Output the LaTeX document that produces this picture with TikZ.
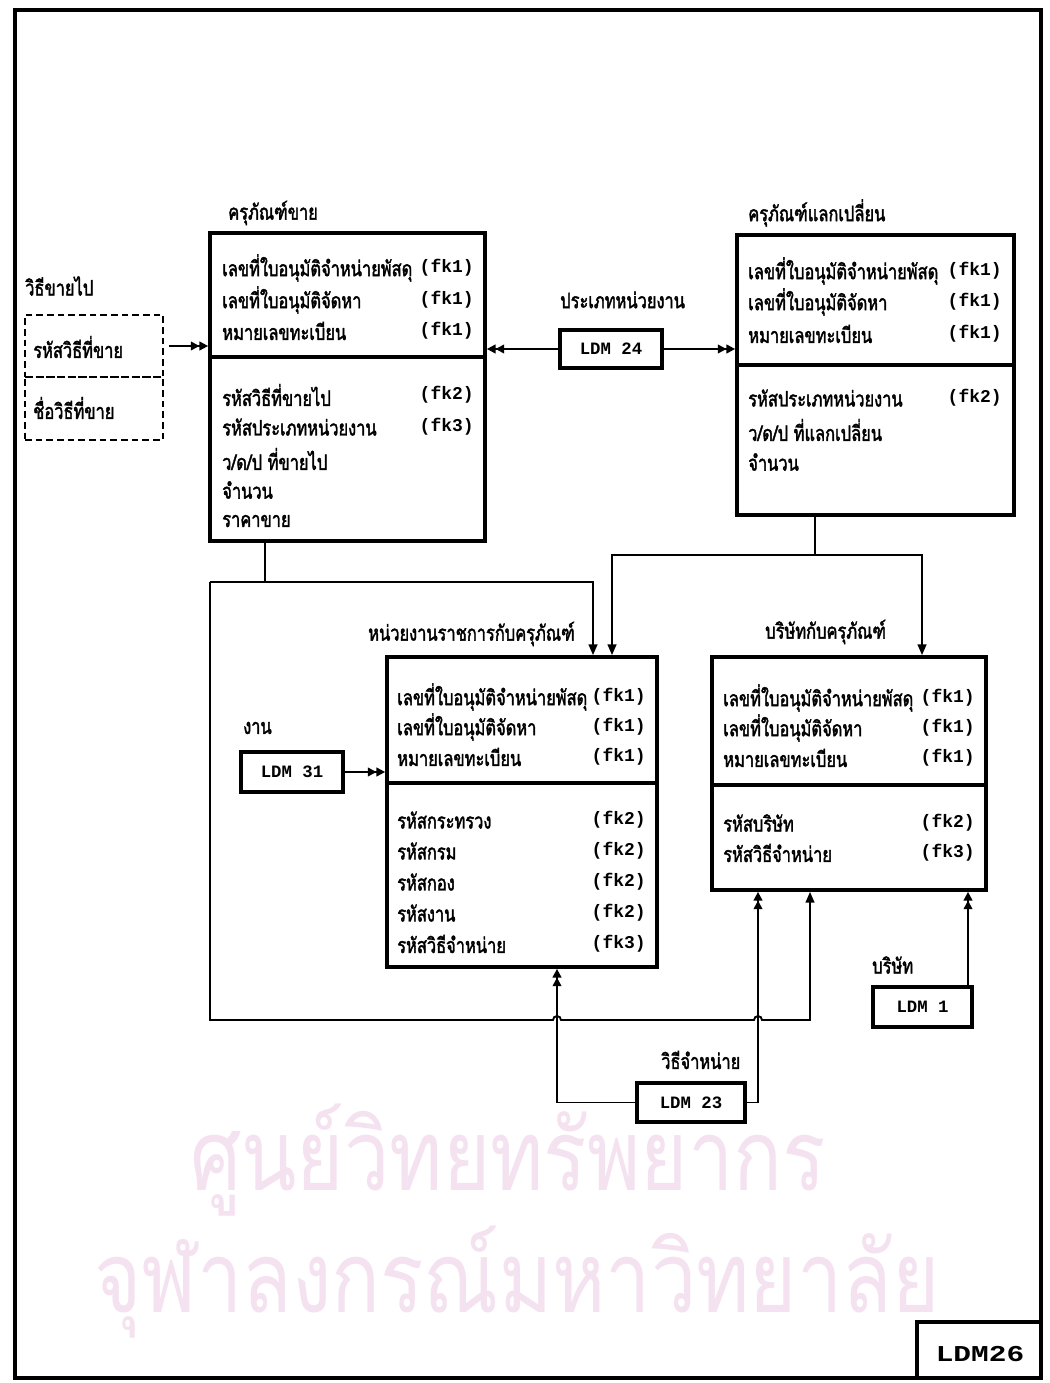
\documentclass[tikz,border=0pt]{standalone}
\usepackage{fontspec}
\usetikzlibrary{arrows.meta,fit}
\newfontfamily\thaif[Script=Thai, FakeStretch=0.77, FakeBold=1.8]{Loma}
\newfontfamily\wmf[Script=Thai, FakeStretch=0.82]{Loma}
\newfontfamily\ldmf{Liberation Mono}
\newfontfamily\widef[FakeStretch=1.3]{Liberation Mono}
\definecolor{wm}{RGB}{244,226,241}
\newcommand\myattr{\thaif\fontsize{16pt}{18pt}\selectfont}
\newcommand\myfk{\ldmf\bfseries\fontsize{13.5pt}{15pt}\selectfont}
\tikzset{
  ent/.style={draw, line width=2.8pt, inner sep=0pt},
  divline/.style={line width=2.8pt},
  ldm/.style={draw, line width=2.8pt, inner sep=0pt},
  ldmtext/.style={font=\ldmf\bfseries\fontsize{13pt}{15pt}\selectfont},
  conn/.style={line width=1.4pt},
  sgl/.style={conn, -{Triangle[length=8pt,width=6.5pt]}},
  dbl/.style={conn, -{Triangle[length=6.5pt,width=6.5pt]Triangle[length=6.5pt,width=6.5pt]}},
  attr/.style={anchor=west, inner sep=0pt, font=\myattr},
  fk/.style={anchor=east, inner sep=0pt, font=\myfk},
  ttl/.style={anchor=west, inner sep=0pt, font=\myattr},
  vbox/.style={draw, dashed, line width=1.2pt, dash pattern=on 5pt off 3pt, inner sep=0pt},
  wmark/.style={text=wm, inner sep=0pt, font=\wmf\fontsize{74pt}{76pt}\selectfont}
}
\begin{document}
\begin{tikzpicture}[x=0.75pt,y=-0.75pt]
\useasboundingbox (0,0) rectangle (1049,1383);
\fill[white] (0,0) rectangle (1049,1383);
% watermark
\node[wmark] (wm1) at (508,1160) {ศูนย์วิทยทรัพยากร};
\node[wmark] (wm2) at (517,1282) {จุฬาลงกรณ์มหาวิทยาลัย};
% frame
\draw[line width=3.6pt] (15,10) rectangle (1041,1378);
\draw[line width=3.6pt] (917,1378) -- (917,1322) -- (1041,1322);
\node[inner sep=0pt, font=\widef\bfseries\fontsize{17pt}{19pt}\selectfont] (ldm26) at (980,1354) {LDM26};

% ---- entity A: ครุภัณฑ์ขาย
\node[ent, fit={(210,233) (485,541)}] (A) {};
\draw[divline] (210,357) -- (485,357);
\node[ttl] (At) at (228,213) {ครุภัณฑ์ขาย};
\node[attr] (A1) at (222,268) {เลขที่ใบอนุมัติจำหน่ายพัสดุ};
\node[fk] (A1f) at (474,268) {(fk1)};
\node[attr] (A2) at (222,300) {เลขที่ใบอนุมัติจัดหา};
\node[fk] (A2f) at (474,300) {(fk1)};
\node[attr] (A3) at (222,331) {หมายเลขทะเบียน};
\node[fk] (A3f) at (474,331) {(fk1)};
\node[attr] (A4) at (222,395) {รหัสวิธีที่ขายไป};
\node[fk] (A4f) at (474,395) {(fk2)};
\node[attr] (A5) at (222,427) {รหัสประเภทหน่วยงาน};
\node[fk] (A5f) at (474,427) {(fk3)};
\node[attr] (A6) at (222,459) {ว/ด/ป ที่ขายไป};
\node[attr] (A7) at (222,490) {จำนวน};
\node[attr] (A8) at (222,521) {ราคาขาย};

% ---- dashed box วิธีขายไป
\node[ttl] (Vt) at (25,286) {วิธีขายไป};
\node[vbox, fit={(25,315) (163,377)}] (V1) {};
\node[vbox, fit={(25,377) (163,440)}] (V2) {};
\node[attr] (V1a) at (33,347) {รหัสวิธีที่ขาย};
\node[attr] (V2a) at (33,408) {ชื่อวิธีที่ขาย};

% ---- entity C: ครุภัณฑ์แลกเปลี่ยน
\node[ent, fit={(737,235) (1014,515)}] (C) {};
\draw[divline] (737,365) -- (1014,365);
\node[ttl] (Ct) at (748,213) {ครุภัณฑ์แลกเปลี่ยน};
\node[attr] (C1) at (748,271) {เลขที่ใบอนุมัติจำหน่ายพัสดุ};
\node[fk] (C1f) at (1002,271) {(fk1)};
\node[attr] (C2) at (748,302) {เลขที่ใบอนุมัติจัดหา};
\node[fk] (C2f) at (1002,302) {(fk1)};
\node[attr] (C3) at (748,334) {หมายเลขทะเบียน};
\node[fk] (C3f) at (1002,334) {(fk1)};
\node[attr] (C4) at (748,398) {รหัสประเภทหน่วยงาน};
\node[fk] (C4f) at (1002,398) {(fk2)};
\node[attr] (C5) at (748,430) {ว/ด/ป ที่แลกเปลี่ยน};
\node[attr] (C6) at (748,462) {จำนวน};

% ---- LDM 24
\node[ttl] (L24t) at (560,300) {ประเภทหน่วยงาน};
\node[ldm, fit={(560,330) (662,368)}] (L24) {};
\node[ldmtext] (L24x) at (L24) {LDM 24};

% ---- entity B: หน่วยงานราชการกับครุภัณฑ์
\node[ent, fit={(387,657) (657,967)}] (B) {};
\draw[divline] (387,783) -- (657,783);
\node[ttl] (Bt) at (368,634) {หน่วยงานราชการกับครุภัณฑ์};
\node[attr] (B1) at (397,697) {เลขที่ใบอนุมัติจำหน่ายพัสดุ};
\node[fk] (B1f) at (646,697) {(fk1)};
\node[attr] (B2) at (397,727) {เลขที่ใบอนุมัติจัดหา};
\node[fk] (B2f) at (646,727) {(fk1)};
\node[attr] (B3) at (397,757) {หมายเลขทะเบียน};
\node[fk] (B3f) at (646,757) {(fk1)};
\node[attr] (B4) at (397,820) {รหัสกระทรวง};
\node[fk] (B4f) at (646,820) {(fk2)};
\node[attr] (B5) at (397,851) {รหัสกรม};
\node[fk] (B5f) at (646,851) {(fk2)};
\node[attr] (B6) at (397,882) {รหัสกอง};
\node[fk] (B6f) at (646,882) {(fk2)};
\node[attr] (B7) at (397,913) {รหัสงาน};
\node[fk] (B7f) at (646,913) {(fk2)};
\node[attr] (B8) at (397,944) {รหัสวิธีจำหน่าย};
\node[fk] (B8f) at (646,944) {(fk3)};

% ---- LDM 31
\node[ttl] (L31t) at (243,728) {งาน};
\node[ldm, fit={(241,752) (343,792)}] (L31) {};
\node[ldmtext] (L31x) at (L31) {LDM 31};

% ---- entity D: บริษัทกับครุภัณฑ์
\node[ent, fit={(712,657) (986,890)}] (D) {};
\draw[divline] (712,785) -- (986,785);
\node[ttl] (Dt) at (765,632) {บริษัทกับครุภัณฑ์};
\node[attr] (D1) at (723,698) {เลขที่ใบอนุมัติจำหน่ายพัสดุ};
\node[fk] (D1f) at (975,698) {(fk1)};
\node[attr] (D2) at (723,728) {เลขที่ใบอนุมัติจัดหา};
\node[fk] (D2f) at (975,728) {(fk1)};
\node[attr] (D3) at (723,758) {หมายเลขทะเบียน};
\node[fk] (D3f) at (975,758) {(fk1)};
\node[attr] (D4) at (723,823) {รหัสบริษัท};
\node[fk] (D4f) at (975,823) {(fk2)};
\node[attr] (D5) at (723,853) {รหัสวิธีจำหน่าย};
\node[fk] (D5f) at (975,853) {(fk3)};

% ---- LDM 1
\node[ttl] (L1t) at (872,965) {บริษัท};
\node[ldm, fit={(873,987) (972,1027)}] (L1) {};
\node[ldmtext] (L1x) at (L1) {LDM 1};

% ---- LDM 23
\node[ttl] (L23t) at (661,1060) {วิธีจำหน่าย};
\node[ldm, fit={(637,1083) (745,1122)}] (L23) {};
\node[ldmtext] (L23x) at (L23) {LDM 23};

% ---- connectors
\draw[dbl] (V1.east) ++(5,0) -- (V1.east -| A.west);
\draw[dbl] (L24.west) -- (L24.west -| A.east);
\draw[dbl] (L24.east) -- (L24.east -| C.west);
\draw[dbl] (L31.east) -- (L31.east -| B.west);

\coordinate (j1) at (265,582);
\coordinate (j2) at (210,582);
\coordinate (j3) at (210,1020);
\coordinate (j4) at (810,1020);
\coordinate (j5) at (593,582);
\draw[conn] (A.south -| j1) -- (j1);
\draw[sgl] (j2) -- (j5) -- (j5 |- B.north);
\draw[sgl] (j2) -- (j3) -- (553,1020) arc[start angle=180, end angle=0, radius=3pt]
  -- (754,1020) arc[start angle=180, end angle=0, radius=3pt] -- (j4) -- (j4 |- D.south);

\coordinate (m1) at (815,555);
\coordinate (m2) at (612,555);
\coordinate (m3) at (922,555);
\draw[conn] (C.south -| m1) -- (m1);
\draw[sgl] (m1) -- (m2) -- (m2 |- B.north);
\draw[sgl] (m1) -- (m3) -- (m3 |- D.north);

\coordinate (k1) at (557,1103);
\coordinate (k2) at (758,1103);
\coordinate (k3) at (968,1000);
\draw[dbl] (L23.west) -- (L23.west -| k1) -- (k1 |- B.south);
\draw[dbl] (L23.east) -- (L23.east -| k2) -- (k2 |- D.south);
\draw[dbl] (L1.north -| k3) -- (k3 |- D.south);
\end{tikzpicture}
\end{document}
